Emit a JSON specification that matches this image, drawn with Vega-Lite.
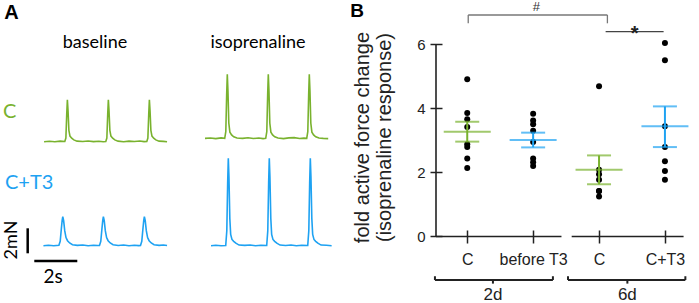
{
  "$schema": "https://vega.github.io/schema/vega-lite/v6.json",
  "padding": 0,
  "background": "white",
  "spacing": 10,
  "config": {"view": {"stroke": null}, "font": "Liberation Sans"},
  "datasets": {
    "traces": [
      {"g":"C","c":"baseline","t":0,"f":0},{"g":"C","c":"baseline","t":0.25,"f":0.04},{"g":"C","c":"baseline","t":0.5,"f":0},{"g":"C","c":"baseline","t":0.75,"f":0.05},
      {"g":"C","c":"baseline","t":0.964,"f":0.02},{"g":"C","c":"baseline","t":1.014,"f":0.3},{"g":"C","c":"baseline","t":1.054,"f":2.2},{"g":"C","c":"baseline","t":1.084,"f":3.36},{"g":"C","c":"baseline","t":1.114,"f":2.5},{"g":"C","c":"baseline","t":1.154,"f":0.9},{"g":"C","c":"baseline","t":1.204,"f":0.45},{"g":"C","c":"baseline","t":1.284,"f":0.28},{"g":"C","c":"baseline","t":1.384,"f":0.15},{"g":"C","c":"baseline","t":1.534,"f":0.05},
      {"g":"C","c":"baseline","t":1.8,"f":0.02},{"g":"C","c":"baseline","t":2.05,"f":0.06},{"g":"C","c":"baseline","t":2.3,"f":0.01},{"g":"C","c":"baseline","t":2.55,"f":0.04},{"g":"C","c":"baseline","t":2.75,"f":0},
      {"g":"C","c":"baseline","t":2.87,"f":0.02},{"g":"C","c":"baseline","t":2.92,"f":0.3},{"g":"C","c":"baseline","t":2.96,"f":2.2},{"g":"C","c":"baseline","t":2.99,"f":3.36},{"g":"C","c":"baseline","t":3.02,"f":2.5},{"g":"C","c":"baseline","t":3.06,"f":0.9},{"g":"C","c":"baseline","t":3.11,"f":0.45},{"g":"C","c":"baseline","t":3.19,"f":0.28},{"g":"C","c":"baseline","t":3.29,"f":0.15},{"g":"C","c":"baseline","t":3.44,"f":0.05},
      {"g":"C","c":"baseline","t":3.7,"f":0},{"g":"C","c":"baseline","t":3.95,"f":0.05},{"g":"C","c":"baseline","t":4.2,"f":0.02},{"g":"C","c":"baseline","t":4.45,"f":0.06},{"g":"C","c":"baseline","t":4.65,"f":0.01},
      {"g":"C","c":"baseline","t":4.778,"f":0.02},{"g":"C","c":"baseline","t":4.828,"f":0.3},{"g":"C","c":"baseline","t":4.868,"f":2.2},{"g":"C","c":"baseline","t":4.898,"f":3.36},{"g":"C","c":"baseline","t":4.928,"f":2.5},{"g":"C","c":"baseline","t":4.968,"f":0.9},{"g":"C","c":"baseline","t":5.018,"f":0.45},{"g":"C","c":"baseline","t":5.098,"f":0.28},{"g":"C","c":"baseline","t":5.198,"f":0.15},{"g":"C","c":"baseline","t":5.348,"f":0.05},
      {"g":"C","c":"baseline","t":5.55,"f":0.03},{"g":"C","c":"baseline","t":5.72,"f":0},

      {"g":"C","c":"isoprenaline","t":0,"f":0.27},{"g":"C","c":"isoprenaline","t":0.25,"f":0.3},{"g":"C","c":"isoprenaline","t":0.5,"f":0.25},{"g":"C","c":"isoprenaline","t":0.75,"f":0.31},
      {"g":"C","c":"isoprenaline","t":0.917,"f":0.27},{"g":"C","c":"isoprenaline","t":0.967,"f":0.8},{"g":"C","c":"isoprenaline","t":1.007,"f":3.7},{"g":"C","c":"isoprenaline","t":1.037,"f":5.39},{"g":"C","c":"isoprenaline","t":1.067,"f":4.1},{"g":"C","c":"isoprenaline","t":1.107,"f":1.5},{"g":"C","c":"isoprenaline","t":1.157,"f":0.77},{"g":"C","c":"isoprenaline","t":1.237,"f":0.55},{"g":"C","c":"isoprenaline","t":1.337,"f":0.4},{"g":"C","c":"isoprenaline","t":1.487,"f":0.3},
      {"g":"C","c":"isoprenaline","t":1.75,"f":0.27},{"g":"C","c":"isoprenaline","t":2.0,"f":0.32},{"g":"C","c":"isoprenaline","t":2.25,"f":0.26},{"g":"C","c":"isoprenaline","t":2.5,"f":0.3},{"g":"C","c":"isoprenaline","t":2.7,"f":0.25},
      {"g":"C","c":"isoprenaline","t":2.824,"f":0.27},{"g":"C","c":"isoprenaline","t":2.874,"f":0.8},{"g":"C","c":"isoprenaline","t":2.914,"f":3.7},{"g":"C","c":"isoprenaline","t":2.944,"f":5.39},{"g":"C","c":"isoprenaline","t":2.974,"f":4.1},{"g":"C","c":"isoprenaline","t":3.014,"f":1.5},{"g":"C","c":"isoprenaline","t":3.064,"f":0.77},{"g":"C","c":"isoprenaline","t":3.144,"f":0.55},{"g":"C","c":"isoprenaline","t":3.244,"f":0.4},{"g":"C","c":"isoprenaline","t":3.394,"f":0.3},
      {"g":"C","c":"isoprenaline","t":3.65,"f":0.25},{"g":"C","c":"isoprenaline","t":3.9,"f":0.31},{"g":"C","c":"isoprenaline","t":4.15,"f":0.33},{"g":"C","c":"isoprenaline","t":4.4,"f":0.26},{"g":"C","c":"isoprenaline","t":4.6,"f":0.29},
      {"g":"C","c":"isoprenaline","t":4.731,"f":0.27},{"g":"C","c":"isoprenaline","t":4.781,"f":0.8},{"g":"C","c":"isoprenaline","t":4.821,"f":3.7},{"g":"C","c":"isoprenaline","t":4.851,"f":5.39},{"g":"C","c":"isoprenaline","t":4.881,"f":4.1},{"g":"C","c":"isoprenaline","t":4.921,"f":1.5},{"g":"C","c":"isoprenaline","t":4.971,"f":0.77},{"g":"C","c":"isoprenaline","t":5.051,"f":0.55},{"g":"C","c":"isoprenaline","t":5.151,"f":0.4},{"g":"C","c":"isoprenaline","t":5.301,"f":0.3},
      {"g":"C","c":"isoprenaline","t":5.5,"f":0.27},{"g":"C","c":"isoprenaline","t":5.73,"f":0.25},

      {"g":"C+T3","c":"baseline","t":-0.03,"f":0},{"g":"C+T3","c":"baseline","t":0.2,"f":0.04},{"g":"C+T3","c":"baseline","t":0.45,"f":0},{"g":"C+T3","c":"baseline","t":0.69,"f":0.03},
      {"g":"C+T3","c":"baseline","t":0.75,"f":0.35},{"g":"C+T3","c":"baseline","t":0.8,"f":1.3},{"g":"C+T3","c":"baseline","t":0.84,"f":2.0},{"g":"C+T3","c":"baseline","t":0.87,"f":2.32},{"g":"C+T3","c":"baseline","t":0.91,"f":2.0},{"g":"C+T3","c":"baseline","t":0.96,"f":1.2},{"g":"C+T3","c":"baseline","t":1.02,"f":0.65},{"g":"C+T3","c":"baseline","t":1.09,"f":0.4},{"g":"C+T3","c":"baseline","t":1.19,"f":0.22},{"g":"C+T3","c":"baseline","t":1.32,"f":0.08},
      {"g":"C+T3","c":"baseline","t":1.55,"f":0.03},{"g":"C+T3","c":"baseline","t":1.8,"f":0.06},{"g":"C+T3","c":"baseline","t":2.05,"f":0},{"g":"C+T3","c":"baseline","t":2.3,"f":0.04},{"g":"C+T3","c":"baseline","t":2.5,"f":0.02},
      {"g":"C+T3","c":"baseline","t":2.578,"f":0.02},{"g":"C+T3","c":"baseline","t":2.638,"f":0.35},{"g":"C+T3","c":"baseline","t":2.688,"f":1.3},{"g":"C+T3","c":"baseline","t":2.728,"f":2.0},{"g":"C+T3","c":"baseline","t":2.758,"f":2.32},{"g":"C+T3","c":"baseline","t":2.798,"f":2.0},{"g":"C+T3","c":"baseline","t":2.848,"f":1.2},{"g":"C+T3","c":"baseline","t":2.908,"f":0.65},{"g":"C+T3","c":"baseline","t":2.978,"f":0.4},{"g":"C+T3","c":"baseline","t":3.078,"f":0.22},{"g":"C+T3","c":"baseline","t":3.208,"f":0.08},
      {"g":"C+T3","c":"baseline","t":3.45,"f":0.02},{"g":"C+T3","c":"baseline","t":3.7,"f":0.05},{"g":"C+T3","c":"baseline","t":3.95,"f":0},{"g":"C+T3","c":"baseline","t":4.2,"f":0.04},{"g":"C+T3","c":"baseline","t":4.4,"f":0.01},
      {"g":"C+T3","c":"baseline","t":4.485,"f":0.02},{"g":"C+T3","c":"baseline","t":4.545,"f":0.35},{"g":"C+T3","c":"baseline","t":4.595,"f":1.3},{"g":"C+T3","c":"baseline","t":4.635,"f":2.0},{"g":"C+T3","c":"baseline","t":4.665,"f":2.32},{"g":"C+T3","c":"baseline","t":4.705,"f":2.0},{"g":"C+T3","c":"baseline","t":4.755,"f":1.2},{"g":"C+T3","c":"baseline","t":4.815,"f":0.65},{"g":"C+T3","c":"baseline","t":4.885,"f":0.4},{"g":"C+T3","c":"baseline","t":4.985,"f":0.22},{"g":"C+T3","c":"baseline","t":5.115,"f":0.08},
      {"g":"C+T3","c":"baseline","t":5.35,"f":0.03},{"g":"C+T3","c":"baseline","t":5.55,"f":0.05},{"g":"C+T3","c":"baseline","t":5.72,"f":0.01},

      {"g":"C+T3","c":"isoprenaline","t":0.28,"f":0},{"g":"C+T3","c":"isoprenaline","t":0.5,"f":0.04},{"g":"C+T3","c":"isoprenaline","t":0.75,"f":0},
      {"g":"C+T3","c":"isoprenaline","t":0.964,"f":0.02},{"g":"C+T3","c":"isoprenaline","t":1.014,"f":1.2},{"g":"C+T3","c":"isoprenaline","t":1.054,"f":5.0},{"g":"C+T3","c":"isoprenaline","t":1.084,"f":6.99},{"g":"C+T3","c":"isoprenaline","t":1.114,"f":5.5},{"g":"C+T3","c":"isoprenaline","t":1.154,"f":2.2},{"g":"C+T3","c":"isoprenaline","t":1.194,"f":0.9},{"g":"C+T3","c":"isoprenaline","t":1.254,"f":0.5},{"g":"C+T3","c":"isoprenaline","t":1.334,"f":0.35},{"g":"C+T3","c":"isoprenaline","t":1.434,"f":0.2},{"g":"C+T3","c":"isoprenaline","t":1.584,"f":0.05},
      {"g":"C+T3","c":"isoprenaline","t":1.85,"f":0.03},{"g":"C+T3","c":"isoprenaline","t":2.1,"f":0.06},{"g":"C+T3","c":"isoprenaline","t":2.35,"f":0},{"g":"C+T3","c":"isoprenaline","t":2.6,"f":0.04},
      {"g":"C+T3","c":"isoprenaline","t":2.87,"f":0.02},{"g":"C+T3","c":"isoprenaline","t":2.92,"f":1.2},{"g":"C+T3","c":"isoprenaline","t":2.96,"f":5.0},{"g":"C+T3","c":"isoprenaline","t":2.99,"f":6.99},{"g":"C+T3","c":"isoprenaline","t":3.02,"f":5.5},{"g":"C+T3","c":"isoprenaline","t":3.06,"f":2.2},{"g":"C+T3","c":"isoprenaline","t":3.1,"f":0.9},{"g":"C+T3","c":"isoprenaline","t":3.16,"f":0.5},{"g":"C+T3","c":"isoprenaline","t":3.24,"f":0.35},{"g":"C+T3","c":"isoprenaline","t":3.34,"f":0.2},{"g":"C+T3","c":"isoprenaline","t":3.49,"f":0.05},
      {"g":"C+T3","c":"isoprenaline","t":3.75,"f":0.02},{"g":"C+T3","c":"isoprenaline","t":4.0,"f":0.06},{"g":"C+T3","c":"isoprenaline","t":4.25,"f":0},{"g":"C+T3","c":"isoprenaline","t":4.5,"f":0.04},
      {"g":"C+T3","c":"isoprenaline","t":4.778,"f":0.02},{"g":"C+T3","c":"isoprenaline","t":4.828,"f":1.2},{"g":"C+T3","c":"isoprenaline","t":4.868,"f":5.0},{"g":"C+T3","c":"isoprenaline","t":4.898,"f":6.99},{"g":"C+T3","c":"isoprenaline","t":4.928,"f":5.5},{"g":"C+T3","c":"isoprenaline","t":4.968,"f":2.2},{"g":"C+T3","c":"isoprenaline","t":5.008,"f":0.9},{"g":"C+T3","c":"isoprenaline","t":5.068,"f":0.5},{"g":"C+T3","c":"isoprenaline","t":5.148,"f":0.35},{"g":"C+T3","c":"isoprenaline","t":5.248,"f":0.2},{"g":"C+T3","c":"isoprenaline","t":5.398,"f":0.05},
      {"g":"C+T3","c":"isoprenaline","t":5.65,"f":0.03},{"g":"C+T3","c":"isoprenaline","t":5.89,"f":0}
    ],
    "dots": [
      {"grp":"2d C","v":4.91},{"grp":"2d C","v":3.85},{"grp":"2d C","v":3.66},{"grp":"2d C","v":3.42},{"grp":"2d C","v":2.88},{"grp":"2d C","v":2.79},{"grp":"2d C","v":2.43},{"grp":"2d C","v":2.14},
      {"grp":"2d before T3","v":3.83},{"grp":"2d before T3","v":3.62},{"grp":"2d before T3","v":3.5},{"grp":"2d before T3","v":3.3},{"grp":"2d before T3","v":2.95},{"grp":"2d before T3","v":2.43},{"grp":"2d before T3","v":2.32},{"grp":"2d before T3","v":2.2},
      {"grp":"6d C","v":4.69},{"grp":"6d C","v":2.08},{"grp":"6d C","v":1.94},{"grp":"6d C","v":1.77},{"grp":"6d C","v":1.42},{"grp":"6d C","v":1.42},{"grp":"6d C","v":1.25},
      {"grp":"6d C+T3","v":6.04},{"grp":"6d C+T3","v":5.5},{"grp":"6d C+T3","v":3.44},{"grp":"6d C+T3","v":2.79},{"grp":"6d C+T3","v":2.35},{"grp":"6d C+T3","v":2.04},{"grp":"6d C+T3","v":1.77}
    ],
    "summ": [
      {"grp":"2d C","cohort":"C","mean":3.27,"lo":2.96,"hi":3.58},
      {"grp":"2d before T3","cohort":"C+T3","mean":3.01,"lo":2.78,"hi":3.24},
      {"grp":"6d C","cohort":"C","mean":2.08,"lo":1.63,"hi":2.53},
      {"grp":"6d C+T3","cohort":"C+T3","mean":3.44,"lo":2.79,"hi":4.06}
    ]
  },
  "hconcat": [
    {
      "width": 340,
      "height": 303,
      "layer": [
        {
          "data": {"name": "traces"},
          "transform": [
            {"calculate": "datum.t + (datum.c == 'baseline' ? 2.05 : 9.535)", "as": "xs"},
            {"calculate": "datum.f + (datum.g == 'C' ? 12.9 : 4.584)", "as": "ym"}
          ],
          "mark": {"type": "line", "strokeWidth": 1.6},
          "encoding": {
            "x": {"field": "xs", "type": "quantitative", "scale": {"domain": [0, 15.814], "nice": false, "zero": false}, "axis": null},
            "y": {"field": "ym", "type": "quantitative", "scale": {"domain": [0, 24.24], "nice": false, "zero": false}, "axis": null},
            "color": {"field": "g", "type": "nominal", "scale": {"domain": ["C", "C+T3"], "range": ["#79b22e", "#1ea2f2"]}, "legend": null},
            "detail": {"field": "c"}
          }
        },
        {
          "data": {"values": [{}]},
          "mark": {"type": "rule", "strokeWidth": 2.5, "color": "#000"},
          "encoding": {"x": {"datum": 1.288, "axis": null}, "y": {"datum": 3.976, "axis": null}, "y2": {"datum": 5.976}}
        },
        {
          "data": {"values": [{}]},
          "mark": {"type": "rule", "strokeWidth": 2.5, "color": "#000"},
          "encoding": {"x": {"datum": 1.595, "axis": null}, "x2": {"datum": 3.595}, "y": {"datum": 3.36, "axis": null}}
        },
        {
          "data": {"values": [{}]},
          "mark": {"type": "text", "text": "A", "font": "Liberation Sans", "fontWeight": "bold", "fontSize": 20, "align": "center", "baseline": "middle", "color": "#000"},
          "encoding": {"x": {"datum": 0.535, "axis": null}, "y": {"datum": 23.24, "axis": null}}
        },
        {
          "data": {"values": [{}]},
          "mark": {"type": "text", "text": "baseline", "font": "Lato", "fontSize": 18, "align": "center", "baseline": "middle", "color": "#000"},
          "encoding": {"x": {"datum": 4.419, "axis": null}, "y": {"datum": 20.8, "axis": null}}
        },
        {
          "data": {"values": [{}]},
          "mark": {"type": "text", "text": "isoprenaline", "font": "Lato", "fontSize": 18, "align": "center", "baseline": "middle", "color": "#000"},
          "encoding": {"x": {"datum": 12.0, "axis": null}, "y": {"datum": 20.8, "axis": null}}
        },
        {
          "data": {"values": [{}]},
          "mark": {"type": "text", "text": "C", "font": "Lato", "fontSize": 20, "align": "left", "baseline": "middle", "color": "#79b22e"},
          "encoding": {"x": {"datum": 0.14, "axis": null}, "y": {"datum": 15.3, "axis": null}}
        },
        {
          "data": {"values": [{}]},
          "mark": {"type": "text", "text": "C+T3", "font": "Lato", "fontSize": 20, "align": "left", "baseline": "middle", "color": "#1ea2f2"},
          "encoding": {"x": {"datum": 0.23, "axis": null}, "y": {"datum": 9.6, "axis": null}}
        },
        {
          "data": {"values": [{}]},
          "mark": {"type": "text", "text": "2mN", "font": "Lato", "fontSize": 18, "align": "center", "baseline": "middle", "angle": 270, "color": "#000"},
          "encoding": {"x": {"datum": 0.56, "axis": null}, "y": {"datum": 5.04, "axis": null}}
        },
        {
          "data": {"values": [{}]},
          "mark": {"type": "text", "text": "2s", "font": "Lato", "fontSize": 19, "align": "center", "baseline": "middle", "color": "#000"},
          "encoding": {"x": {"datum": 2.47, "axis": null}, "y": {"datum": 2.08, "axis": null}}
        }
      ]
    },
    {
      "width": 252,
      "height": 303,
      "layer": [
        {
          "data": {"name": "dots"},
          "transform": [{"calculate": "indexof(['2d C','2d before T3','6d C','6d C+T3'], datum.grp)", "as": "rank"}],
          "mark": {"type": "point", "filled": true, "size": 36, "color": "#000", "opacity": 1},
          "encoding": {
            "x": {"field": "rank", "type": "quantitative", "scale": {"domain": [-0.474, 3.35], "nice": false, "zero": false},
              "axis": {"orient": "bottom", "values": [0, 1, 2, 3], "labelExpr": "['C','before T3','C','C+T3'][datum.value]", "offset": -73, "tickSize": 13, "tickWidth": 1.5, "tickColor": "#222", "domain": false, "grid": false, "labelFontSize": 16, "labelPadding": 8, "labelColor": "#222", "labelFont": "Liberation Sans", "labelOverlap": false, "labelFlush": false, "title": null}},
            "y": {"field": "v", "type": "quantitative", "scale": {"domain": [-2.075, 7.379], "nice": false, "zero": false},
              "axis": {"orient": "left", "values": [0, 2, 4, 6], "offset": -6, "tickSize": 12, "tickWidth": 1.5, "tickColor": "#222", "domain": false, "grid": false, "labelFontSize": 15, "labelPadding": 5, "labelColor": "#222", "labelFont": "Liberation Sans", "labelFlush": false, "labelOverlap": false, "title": ["fold active force change", "(isoprenaline response)"], "titleFont": "Liberation Sans", "titleFontSize": 20, "titleFontWeight": "normal", "titleColor": "#222", "titlePadding": 22, "titleY": 137}}
          }
        },
        {
          "data": {"name": "summ"},
          "transform": [{"calculate": "indexof(['2d C','2d before T3','6d C','6d C+T3'], datum.grp)", "as": "rank"}],
          "layer": [
            {"mark": {"type": "rule", "strokeWidth": 2},
             "encoding": {"x": {"field": "rank", "type": "quantitative"}, "y": {"field": "lo", "type": "quantitative"}, "y2": {"field": "hi"},
               "color": {"field": "cohort", "type": "nominal", "scale": {"domain": ["C", "C+T3"], "range": ["#79b22e", "#1ea2f2"]}, "legend": null}}},
            {"mark": {"type": "tick", "orient": "horizontal", "size": 47, "thickness": 2},
             "encoding": {"x": {"field": "rank", "type": "quantitative"}, "y": {"field": "mean", "type": "quantitative"},
               "color": {"field": "cohort", "type": "nominal", "legend": null}}},
            {"mark": {"type": "tick", "orient": "horizontal", "size": 24, "thickness": 2},
             "encoding": {"x": {"field": "rank", "type": "quantitative"}, "y": {"field": "lo", "type": "quantitative"},
               "color": {"field": "cohort", "type": "nominal", "legend": null}}},
            {"mark": {"type": "tick", "orient": "horizontal", "size": 24, "thickness": 2},
             "encoding": {"x": {"field": "rank", "type": "quantitative"}, "y": {"field": "hi", "type": "quantitative"},
               "color": {"field": "cohort", "type": "nominal", "legend": null}}}
          ]
        },
        {"data": {"values": [{}]}, "mark": {"type": "rule", "strokeWidth": 1.6, "color": "#222"},
         "encoding": {"x": {"datum": -0.474}, "y": {"datum": 0}, "y2": {"datum": 6}}},
        {"data": {"values": [{}]}, "mark": {"type": "rule", "strokeWidth": 1.6, "color": "#222"},
         "encoding": {"x": {"datum": -0.474}, "x2": {"datum": 1.43}, "y": {"datum": 0}}},
        {"data": {"values": [{}]}, "mark": {"type": "rule", "strokeWidth": 1.6, "color": "#222"},
         "encoding": {"x": {"datum": 1.585}, "x2": {"datum": 3.283}, "y": {"datum": 0}}},
        {"data": {"values": [{}]}, "mark": {"type": "rule", "strokeWidth": 1.3, "color": "#777"},
         "encoding": {"x": {"datum": 0.015}, "x2": {"datum": 2.127}, "y": {"datum": 6.911}}},
        {"data": {"values": [{}]}, "mark": {"type": "rule", "strokeWidth": 1.3, "color": "#777"},
         "encoding": {"x": {"datum": 0.015}, "y": {"datum": 6.652}, "y2": {"datum": 6.911}}},
        {"data": {"values": [{}]}, "mark": {"type": "rule", "strokeWidth": 1.3, "color": "#777"},
         "encoding": {"x": {"datum": 2.127}, "y": {"datum": 6.652}, "y2": {"datum": 6.911}}},
        {"data": {"values": [{}]}, "mark": {"type": "rule", "strokeWidth": 1.3, "color": "#444"},
         "encoding": {"x": {"datum": 2.10}, "x2": {"datum": 2.98}, "y": {"datum": 6.39}}},
        {"data": {"values": [{}]}, "mark": {"type": "text", "text": "#", "fontSize": 13, "align": "center", "baseline": "middle", "color": "#333"},
         "encoding": {"x": {"datum": 1.05}, "y": {"datum": 7.16}}},
        {"data": {"values": [{}]}, "mark": {"type": "text", "text": "*", "fontSize": 20, "fontWeight": "bold", "align": "center", "baseline": "middle", "color": "#222"},
         "encoding": {"x": {"datum": 2.54}, "y": {"datum": 6.33}}},
        {"data": {"values": [{}]}, "mark": {"type": "text", "text": "B", "fontSize": 19, "fontWeight": "bold", "align": "center", "baseline": "middle", "color": "#000"},
         "encoding": {"x": {"datum": -1.671}, "y": {"datum": 7.036}}},
        {"data": {"values": [{}]}, "mark": {"type": "rule", "strokeWidth": 2, "color": "#222"},
         "encoding": {"x": {"datum": -0.49}, "x2": {"datum": 1.30}, "y": {"datum": -1.357}}},
        {"data": {"values": [{}]}, "mark": {"type": "rule", "strokeWidth": 2, "color": "#222"},
         "encoding": {"x": {"datum": -0.49}, "y": {"datum": -1.357}, "y2": {"datum": -1.24}}},
        {"data": {"values": [{}]}, "mark": {"type": "rule", "strokeWidth": 2, "color": "#222"},
         "encoding": {"x": {"datum": 1.30}, "y": {"datum": -1.357}, "y2": {"datum": -1.24}}},
        {"data": {"values": [{}]}, "mark": {"type": "rule", "strokeWidth": 2, "color": "#222"},
         "encoding": {"x": {"datum": 0.39}, "y": {"datum": -1.357}, "y2": {"datum": -1.47}}},
        {"data": {"values": [{}]}, "mark": {"type": "rule", "strokeWidth": 2, "color": "#222"},
         "encoding": {"x": {"datum": 1.529}, "x2": {"datum": 3.31}, "y": {"datum": -1.357}}},
        {"data": {"values": [{}]}, "mark": {"type": "rule", "strokeWidth": 2, "color": "#222"},
         "encoding": {"x": {"datum": 1.529}, "y": {"datum": -1.357}, "y2": {"datum": -1.24}}},
        {"data": {"values": [{}]}, "mark": {"type": "rule", "strokeWidth": 2, "color": "#222"},
         "encoding": {"x": {"datum": 3.31}, "y": {"datum": -1.357}, "y2": {"datum": -1.24}}},
        {"data": {"values": [{}]}, "mark": {"type": "rule", "strokeWidth": 2, "color": "#222"},
         "encoding": {"x": {"datum": 2.43}, "y": {"datum": -1.357}, "y2": {"datum": -1.47}}},
        {"data": {"values": [{}]}, "mark": {"type": "text", "text": "2d", "fontSize": 17, "align": "center", "baseline": "middle", "color": "#222"},
         "encoding": {"x": {"datum": 0.39}, "y": {"datum": -1.825}}},
        {"data": {"values": [{}]}, "mark": {"type": "text", "text": "6d", "fontSize": 17, "align": "center", "baseline": "middle", "color": "#222"},
         "encoding": {"x": {"datum": 2.43}, "y": {"datum": -1.825}}}
      ]
    }
  ]
}
